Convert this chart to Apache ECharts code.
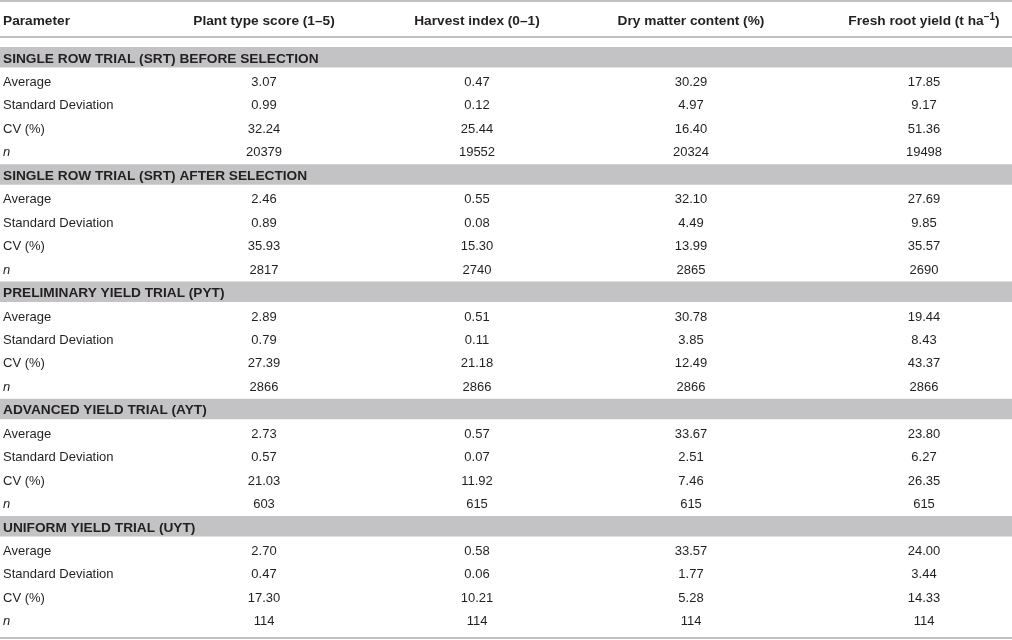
<!DOCTYPE html>
<html>
<head>
<meta charset="utf-8">
<script src="https://cdn.jsdelivr.net/npm/echarts@6/dist/echarts.min.js"></script>
<style>
  html, body { margin: 0; padding: 0; background: #fff; }
  #chart { width: 1012px; height: 640px; }
</style>
</head>
<body>
<div id="chart"></div>
<script>
"use strict";
// table contents
const headers = ["Parameter", "Plant type score (1–5)", "Harvest index (0–1)", "Dry matter content (%)", "Fresh root yield (t ha{sup|−1})"];
const sections = [
    "SINGLE ROW TRIAL (SRT) BEFORE SELECTION",
    "SINGLE ROW TRIAL (SRT) AFTER SELECTION",
    "PRELIMINARY YIELD TRIAL (PYT)",
    "ADVANCED YIELD TRIAL (AYT)",
    "UNIFORM YIELD TRIAL (UYT)",
];
const statNames = ["Average", "Standard Deviation", "CV (%)", "n"];
// one row per section: Average, SD, CV, n
const plantTypeScore = [
    [3.07, 0.99, 32.24, 20379],
    [2.46, 0.89, 35.93, 2817],
    [2.89, 0.79, 27.39, 2866],
    [2.73, 0.57, 21.03, 603],
    [2.70, 0.47, 17.30, 114],
];
const harvestIndex = [
    [0.47, 0.12, 25.44, 19552],
    [0.55, 0.08, 15.30, 2740],
    [0.51, 0.11, 21.18, 2866],
    [0.57, 0.07, 11.92, 615],
    [0.58, 0.06, 10.21, 114],
];
const dryMatterContent = [
    [30.29, 4.97, 16.40, 20324],
    [32.10, 4.49, 13.99, 2865],
    [30.78, 3.85, 12.49, 2866],
    [33.67, 2.51, 7.46, 615],
    [33.57, 1.77, 5.28, 114],
];
const freshRootYield = [
    [17.85, 9.17, 51.36, 19498],
    [27.69, 9.85, 35.57, 2690],
    [19.44, 8.43, 43.37, 2866],
    [23.80, 6.27, 26.35, 615],
    [24.00, 3.44, 14.33, 114],
];

// layout (x anchors on a 0..1012 value axis)
const WIDTH = 1012;
const colAnchor = [3, 264, 477, 691, 924];
const FONT = "'Liberation Sans', Arial, Helvetica, sans-serif";
const TEXT = "#231f20";
const RULE = "#c0c0c0";
const BAND = "#c3c3c5";

const valueCols = [plantTypeScore, harvestIndex, dryMatterContent, freshRootYield];
const rows = [];
sections.forEach((name, s) => {
    rows.push({ band: true, label: name });
    statNames.forEach((stat, k) => {
        rows.push({
            band: false,
            label: stat,
            values: valueCols.map((col) => (k === 3 ? String(col[s][k]) : col[s][k].toFixed(2))),
        });
    });
});

const hiddenX = (gridIndex, position, showLine, offset) => ({
    type: "value",
    gridIndex,
    position,
    offset: offset || 0,
    min: 0,
    max: WIDTH,
    axisLine: { show: showLine, onZero: false, lineStyle: { color: RULE, width: 2 } },
    axisTick: { show: false },
    axisLabel: { show: false },
    splitLine: { show: false },
});
const hiddenY = (gridIndex, data) => ({
    type: "category",
    gridIndex,
    data,
    inverse: true,
    show: false,
});

const chart = echarts.init(document.getElementById("chart"), null, { renderer: "canvas" });
chart.setOption({
    animation: false,
    grid: [
        { left: 0, right: 0, top: 1, height: 36 },
        { left: 0, right: 0, top: 45.3, height: 586.2 },
    ],
    xAxis: [
        hiddenX(0, "top", true),
        hiddenX(0, "bottom", true),
        hiddenX(1, "bottom", true, 6),
    ],
    yAxis: [
        hiddenY(0, ["header"]),
        hiddenY(1, rows.map((r, i) => `${i}:${r.label}`)),
    ],
    series: [
        {
            type: "custom",
            xAxisIndex: 0,
            yAxisIndex: 0,
            clip: false,
            data: [[0, 0]],
            renderItem: (params, api) => ({
                type: "group",
                children: headers.map((h, c) => {
                    const [x, y] = api.coord([colAnchor[c], 0]);
                    return {
                        type: "text",
                        style: {
                            text: h,
                            x,
                            y: y + 2.5,
                            align: c === 0 ? "left" : "center",
                            verticalAlign: "middle",
                            fill: TEXT,
                            fontFamily: FONT,
                            fontSize: 13.7,
                            fontWeight: "bold",
                            rich: {
                                sup: { fontSize: 10, fontWeight: "bold", fontFamily: FONT, fill: TEXT, verticalAlign: "top", lineHeight: 18 },
                            },
                        },
                    };
                }),
            }),
        },
        {
            type: "custom",
            xAxisIndex: 2,
            yAxisIndex: 1,
            clip: false,
            data: rows.map((r, i) => [0, i]),
            renderItem: (params, api) => {
                const i = api.value(1);
                const row = rows[i];
                const [x0, y] = api.coord([0, i]);
                const x1 = api.coord([WIDTH, i])[0];
                if (row.band) {
                    return {
                        type: "group",
                        children: [
                            { type: "rect", shape: { x: x0, y: y - 10, width: x1 - x0, height: 20.5 }, style: { fill: BAND } },
                            {
                                type: "text",
                                style: {
                                    text: row.label, x: api.coord([colAnchor[0], i])[0], y: y + 1.8,
                                    align: "left", verticalAlign: "middle",
                                    fill: TEXT, fontFamily: FONT, fontSize: 13.7, fontWeight: "bold",
                                },
                            },
                        ],
                    };
                }
                const cells = [row.label].concat(row.values);
                return {
                    type: "group",
                    children: cells.map((t, c) => ({
                        type: "text",
                        style: {
                            text: t,
                            x: api.coord([colAnchor[c], i])[0],
                            y: y + 2,
                            align: c === 0 ? "left" : "center",
                            verticalAlign: "middle",
                            fill: TEXT,
                            fontFamily: FONT,
                            fontSize: 13,
                            fontStyle: c === 0 && t === "n" ? "italic" : "normal",
                        },
                    })),
                };
            },
        },
    ],
});
</script>
</body>
</html>
